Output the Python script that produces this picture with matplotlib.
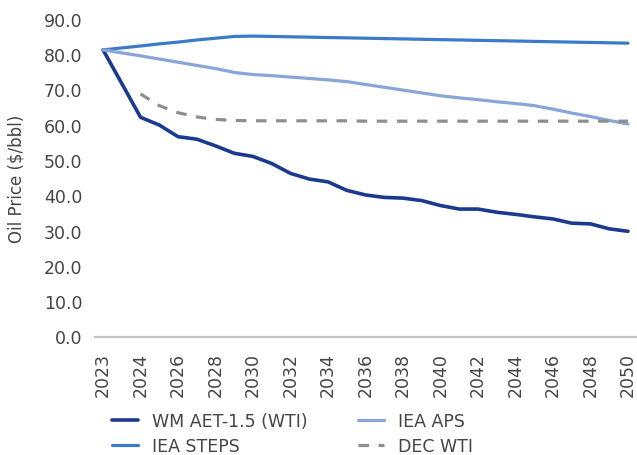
import numpy as np
import matplotlib
matplotlib.use("Agg")
import matplotlib.pyplot as plt

plt.rcParams['font.family'] = ['DejaVu Sans']

years = list(range(2023, 2051))

wm_aet = [81.2, 62.1, 59.9, 56.6, 55.9, 54.0, 51.9, 51.0, 49.0, 46.2,
          44.6, 43.8, 41.4, 40.1, 39.4, 39.2, 38.5, 37.1, 36.1, 36.1,
          35.2, 34.6, 33.9, 33.3, 32.1, 31.9, 30.5, 29.8]
iea_steps = [81.2, 82.3, 82.9, 83.4, 84.0, 84.5, 85.0, 85.1, 85.0, 84.9,
             84.8, 84.7, 84.6, 84.5, 84.4, 84.3, 84.2, 84.1, 84.0, 83.9,
             83.8, 83.7, 83.6, 83.5, 83.4, 83.3, 83.2, 83.1]
iea_aps = [81.2, 79.5, 78.6, 77.7, 76.8, 75.9, 74.8, 74.2, 73.9, 73.5,
           73.1, 72.7, 72.2, 71.4, 70.6, 69.8, 69.0, 68.2, 67.6, 67.1,
           66.5, 66.0, 65.4, 64.4, 63.3, 62.3, 61.2, 60.2]
dec_wti = [np.nan, 68.7, 65.4, 63.4, 62.2, 61.5, 61.2, 61.1, 61.1, 61.1,
           61.1, 61.1, 61.1, 61.0, 61.0, 61.0, 61.0, 61.0, 61.0, 61.0,
           61.0, 61.0, 61.0, 61.0, 61.0, 61.0, 61.0, 61.0]

tick_years = [2023, 2024, 2026, 2028, 2030, 2032, 2034, 2036, 2038, 2040,
              2042, 2044, 2046, 2048, 2050]
tick_labels = [str(y) for y in tick_years]
y_ticks = [0, 10, 20, 30, 40, 50, 60, 70, 80, 90]

# in the source chart the 2023 point occupies a double-width step (one blank slot before 2024)
def slot(y):
    return y - 1 if y == 2023 else y

xpos = np.array([slot(y) for y in years], dtype=float)

W, H = 637, 456
fig = plt.figure(figsize=(W / 100, H / 100), dpi=100)
ax = fig.add_axes([95 / W, (H - 337.5) / H, 542 / W, 317.7 / H])

c_wm = '#1b3a8e'
c_steps = '#3b7bc8'
c_aps = '#88a6d8'
c_dec = '#8e8e8e'

ax.plot(xpos, wm_aet, color=c_wm, lw=2.6, label='WM AET-1.5 (WTI)', solid_capstyle='round', solid_joinstyle='round')
ax.plot(xpos, iea_steps, color=c_steps, lw=2.3, label='IEA STEPS', solid_capstyle='round', solid_joinstyle='round')
ax.plot(xpos, iea_aps, color=c_aps, lw=2.3, label='IEA APS', solid_capstyle='round', solid_joinstyle='round')
ax.plot(xpos, dec_wti, color=c_dec, lw=2.3, ls=(0, (3.3, 3.0)), label='DEC WTI')

ax.set_xlim(slot(2023) - 0.43, 2050 + 0.48)
ax.set_ylim(0, 90)

ax.set_xticks([slot(y) for y in tick_years])
ax.set_xticklabels(tick_labels, rotation=90)
ax.set_yticks(y_ticks)
ax.set_yticklabels([f'{v:.1f}' for v in y_ticks])

ax.tick_params(axis='both', length=0, labelsize=12.5, colors='#454545')
ax.tick_params(axis='y', pad=9)
ax.tick_params(axis='x', pad=11)

for s in ['top', 'right', 'left']:
    ax.spines[s].set_visible(False)
ax.spines['bottom'].set_color('#c4c4c4')
ax.spines['bottom'].set_linewidth(1.6)

ax.set_ylabel('Oil Price ($/bbl)', fontsize=12, color='#454545')
ax.yaxis.set_label_coords(-0.128, 0.5)

handles, labels = ax.get_legend_handles_labels()
leg = fig.legend(handles, labels, ncol=2, loc='upper left',
                 bbox_to_anchor=(112 / W, (H - 413) / H), frameon=False,
                 fontsize=12.5, handlelength=1.5, handletextpad=0.8,
                 columnspacing=2.9, labelspacing=0.4, borderpad=0,
                 borderaxespad=0)
for t in leg.get_texts():
    t.set_color('#454545')

fig.savefig('out.png', dpi=100)
